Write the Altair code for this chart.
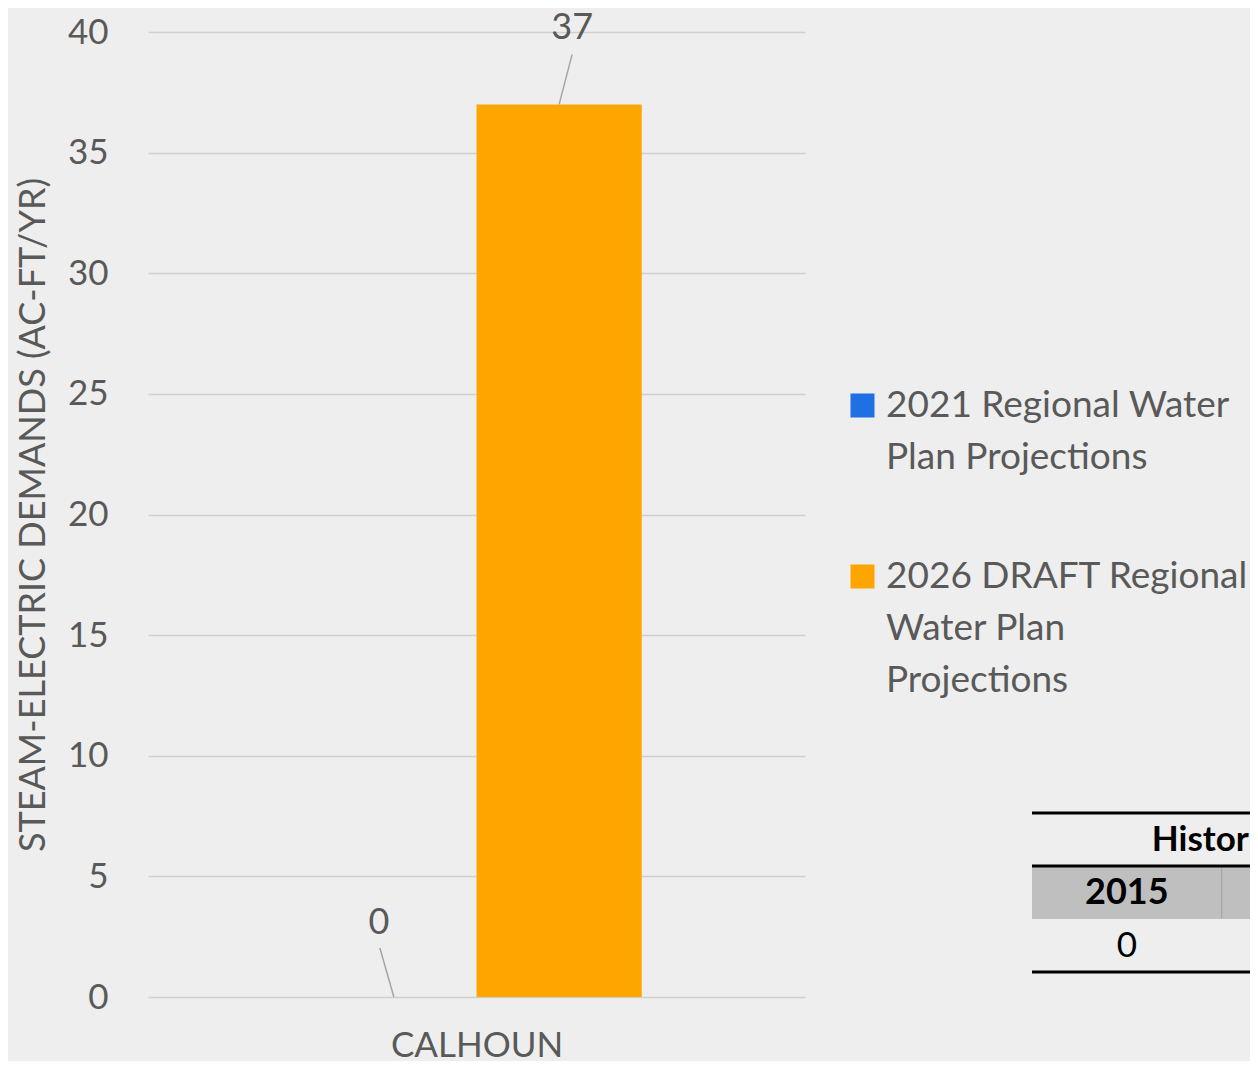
import json
import altair as alt
import pandas as pd

# ---------------- data ----------------
counties = ["CALHOUN"]
series = [
    "2021 Regional Water Plan Projections",
    "2026 DRAFT Regional Water Plan Projections",
]
demands = [0, 37]
colors = ["#1f6fe5", "#ffa500"]
legend_lines = [
    ["2021 Regional Water", "Plan Projections"],
    ["2026 DRAFT Regional", "Water Plan", "Projections"],
]
y_ticks = [0, 5, 10, 15, 20, 25, 30, 35, 40]

hist_title = "Historical"
hist_years = ["2015", "2016"]
hist_values = [0, None]
table_rows = ["title", "header", "value"]

FONT = "Lato"
GRAY = "#595959"

df = pd.DataFrame({"county": counties * len(series), "series": series, "demand": demands})

# ---------------- main chart ----------------
x_scale = alt.Scale(domain=series, paddingInner=0, paddingOuter=0.988)
y_scale = alt.Scale(domain=[0, 40])
x_enc = alt.X(
    "series:N",
    scale=x_scale,
    axis=alt.Axis(
        title=counties[0], labels=False, ticks=False, domain=False,
        titleFontSize=35, titleColor=GRAY, titleFont=FONT,
        titleFontWeight="normal", titlePadding=31,
    ),
)
y_enc = alt.Y(
    "demand:Q",
    scale=y_scale,
    axis=alt.Axis(
        values=y_ticks, title="STEAM-ELECTRIC DEMANDS (AC-FT/YR)",
        labelFontSize=35, labelColor=GRAY, labelFont=FONT, labelPadding=40,
        ticks=False, domain=False, gridColor="#d0d0d0", gridWidth=1.5,
        titleFontSize=36, titleFont=FONT, titleColor=GRAY,
        titleFontWeight="normal", titlePadding=15,
    ),
)

label_expr = " : ".join(
    f"datum.label == {json.dumps(s)} ? {json.dumps(l)}" for s, l in zip(series[:-1], legend_lines[:-1])
) + " : " + json.dumps(legend_lines[-1])

bars = alt.Chart(df).mark_bar().encode(
    x=x_enc,
    y=y_enc,
    color=alt.Color(
        "series:N",
        scale=alt.Scale(domain=series, range=colors),
        legend=alt.Legend(
            orient="none", legendX=696, legendY=355, title=None,
            symbolType="square", symbolSize=576, symbolStrokeWidth=0,
            labelFontSize=37, labelColor=GRAY, labelFont=FONT,
            labelOffset=5, labelLimit=1000, labelExpr=label_expr,
            rowPadding=81, labelBaseline="middle",
        ),
    ),
)

label_styles = [
    dict(dx=-15, dy=-74, x2Offset=-14, y2Offset=-49),
    dict(dx=13, dy=-76, x2Offset=13, y2Offset=-50),
]
layers = [bars]
for s, st in zip(series, label_styles):
    base = alt.Chart(df).transform_filter(alt.datum.series == s)
    leader = base.mark_rule(
        color="#a6a6a6", strokeWidth=1.5,
        x2Offset=st["x2Offset"], y2Offset=st["y2Offset"],
    ).encode(x=alt.X("series:N", scale=x_scale), x2="series",
             y=alt.Y("demand:Q", scale=y_scale), y2="demand")
    text = base.mark_text(
        dx=st["dx"], dy=st["dy"], fontSize=36, color=GRAY, font=FONT, baseline="middle"
    ).encode(x=alt.X("series:N", scale=x_scale), y=alt.Y("demand:Q", scale=y_scale),
             text="demand:Q")
    layers += [leader, text]

main = alt.layer(*layers)

# ---------------- table fragment (right edge, cropped) ----------------
n_cols = len(hist_years)
tx_scale = alt.Scale(domain=[0, n_cols], range=[884, 884 + 189.7 * n_cols], nice=False, zero=False)
ty_scale = alt.Scale(domain=table_rows, range=[781, 940], paddingInner=0, paddingOuter=0)

cells = pd.DataFrame({"year": hist_years, "col": list(range(n_cols)), "value": hist_values})
cells_calc = alt.Chart(cells).transform_calculate(
    col_end="datum.col + 1", col_mid="datum.col + 0.5"
)

header_rect = cells_calc.transform_calculate(row="'header'").mark_rect(color="#bfbfbf").encode(
    x=alt.X("col:Q", scale=tx_scale, axis=None), x2="col_end:Q",
    y=alt.Y("row:N", scale=ty_scale, axis=None),
)
separator = cells_calc.transform_filter("datum.col > 0").transform_calculate(row="'header'").mark_tick(
    orient="vertical", color="#8c8c8c", thickness=1, size=52
).encode(
    x=alt.X("col:Q", scale=tx_scale, axis=None),
    y=alt.Y("row:N", scale=ty_scale, axis=None),
)
header_text = cells_calc.transform_calculate(row="'header'").mark_text(
    fontWeight="bold", fontSize=36, color="black", font=FONT
).encode(
    x=alt.X("col_mid:Q", scale=tx_scale, axis=None),
    y=alt.Y("row:N", scale=ty_scale, axis=None),
    text="year:N",
)
value_text = cells_calc.transform_filter("isValid(datum.value)").transform_calculate(row="'value'").mark_text(
    fontSize=35, color="black", font=FONT
).encode(
    x=alt.X("col_mid:Q", scale=tx_scale, axis=None),
    y=alt.Y("row:N", scale=ty_scale, axis=None),
    text=alt.Text("value:Q", format="d"),
)
title_text = cells_calc.transform_filter("datum.col == 0").transform_calculate(
    row="'title'", title=json.dumps(hist_title)
).mark_text(
    fontWeight="bold", fontSize=35, color="black", font=FONT, align="left", dx=25
).encode(
    x=alt.X("col_mid:Q", scale=tx_scale, axis=None),
    y=alt.Y("row:N", scale=ty_scale, axis=None),
    text="title:N",
)
rules_top = alt.Chart(pd.DataFrame({"row": table_rows[:2]})).mark_rule(
    color="black", strokeWidth=3
).encode(
    x=alt.datum(0, scale=tx_scale, axis=None), x2=alt.datum(n_cols),
    y=alt.Y("row:N", bandPosition=0, scale=ty_scale, axis=None),
)
rules_bottom = alt.Chart(pd.DataFrame({"row": table_rows[2:]})).mark_rule(
    color="black", strokeWidth=3
).encode(
    x=alt.datum(0, scale=tx_scale, axis=None), x2=alt.datum(n_cols),
    y=alt.Y("row:N", bandPosition=1, scale=ty_scale, axis=None),
)

table = alt.layer(header_rect, separator, header_text, value_text, title_text, rules_top, rules_bottom)

chart = (
    alt.layer(main, table)
    .resolve_scale(x="independent", y="independent")
    .properties(
        width=657, height=965,
        autosize=alt.AutoSizeParams(type="none"),
        padding={"left": 140, "top": 24, "right": 445, "bottom": 64},
    )
    .configure(
        background="#eeeeee",
        style={"guide-label": {"lineHeight": 52}},
    )
    .configure_view(stroke=None)
)

chart.save("out.html", embed_options={"renderer": "svg", "actions": False})
